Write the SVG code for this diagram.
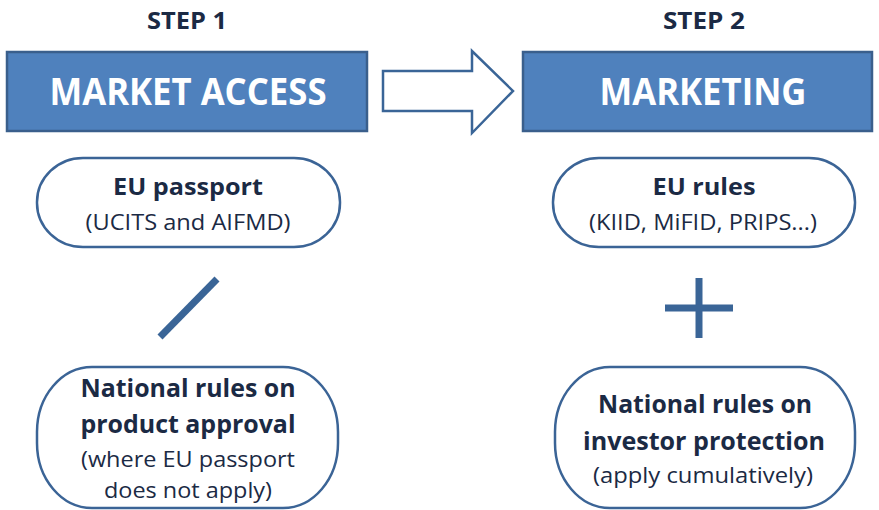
<svg xmlns="http://www.w3.org/2000/svg" width="879" height="510" viewBox="0 0 879 510">
<style>
.t{font-family:"Open Sans","Liberation Sans",sans-serif;fill:#1B2A44;text-anchor:middle}
.b{font-weight:bold}
.hd{font-family:"Open Sans","Liberation Sans",sans-serif;font-weight:bold;fill:#ffffff;text-anchor:middle;font-size:37px}
.box{fill:#4F81BD;stroke:#3A5F8C;stroke-width:2.5}
.ov{fill:#ffffff;stroke:#3B6496;stroke-width:2.5}
.sym{stroke:#3A6597;stroke-width:7;stroke-linecap:butt;fill:none}
</style>
<rect width="879" height="510" fill="#ffffff"/>
<g id="step1-label"><text class="t b" x="187" y="29" font-size="23" textLength="80" lengthAdjust="spacingAndGlyphs">STEP 1</text></g>
<g id="step2-label"><text class="t b" x="704" y="29" font-size="23" textLength="82" lengthAdjust="spacingAndGlyphs">STEP 2</text></g>
<g id="market-access">
<rect class="box" x="7" y="52" width="360" height="79"/>
<text class="hd" x="188" y="105" textLength="277" lengthAdjust="spacingAndGlyphs">MARKET ACCESS</text>
</g>
<g id="marketing">
<rect class="box" x="523" y="52" width="349" height="79"/>
<text class="hd" x="703" y="105" textLength="207" lengthAdjust="spacingAndGlyphs">MARKETING</text>
</g>
<g id="connectors">
<polygon points="383,71 472,71 472,51 513,91 472,133 472,111 383,111" fill="#ffffff" stroke="#3A6597" stroke-width="2.5"/>
</g>
<g id="eu-passport">
<rect class="ov" x="37" y="158" width="303" height="89" rx="46" ry="44"/>
<text class="t b" x="188" y="195" font-size="24" textLength="150" lengthAdjust="spacingAndGlyphs">EU passport</text>
<text class="t" x="188" y="230" font-size="22" textLength="205" lengthAdjust="spacingAndGlyphs">(UCITS and AIFMD)</text>
</g>
<g id="eu-rules">
<rect class="ov" x="553" y="158" width="302" height="89" rx="46" ry="44"/>
<text class="t b" x="704" y="195" font-size="24" textLength="103" lengthAdjust="spacingAndGlyphs">EU rules</text>
<text class="t" x="703" y="230" font-size="22" textLength="228" lengthAdjust="spacingAndGlyphs">(KIID, MiFID, PRIPS...)</text>
</g>
<g id="slash"><line class="sym" x1="160" y1="337" x2="217" y2="279"/></g>
<g id="plus">
<line class="sym" x1="699" y1="278" x2="699" y2="338"/>
<line class="sym" x1="665" y1="308" x2="733" y2="308"/>
</g>
<g id="national-product">
<rect class="ov" x="37" y="367" width="301" height="141" rx="55" ry="65"/>
<text class="t b" x="188" y="397" font-size="25" textLength="215" lengthAdjust="spacingAndGlyphs">National rules on</text>
<text class="t b" x="188" y="433" font-size="25" textLength="215" lengthAdjust="spacingAndGlyphs">product approval</text>
<text class="t" x="188" y="467" font-size="22" textLength="214" lengthAdjust="spacingAndGlyphs">(where EU passport</text>
<text class="t" x="188" y="498" font-size="22" textLength="168" lengthAdjust="spacingAndGlyphs">does not apply)</text>
</g>
<g id="national-investor">
<rect class="ov" x="555" y="367" width="300" height="141" rx="55" ry="65"/>
<text class="t b" x="705" y="413" font-size="25" textLength="214" lengthAdjust="spacingAndGlyphs">National rules on</text>
<text class="t b" x="704" y="450" font-size="25" textLength="242" lengthAdjust="spacingAndGlyphs">investor protection</text>
<text class="t" x="703" y="483" font-size="22" textLength="220" lengthAdjust="spacingAndGlyphs">(apply cumulatively)</text>
</g>
</svg>
